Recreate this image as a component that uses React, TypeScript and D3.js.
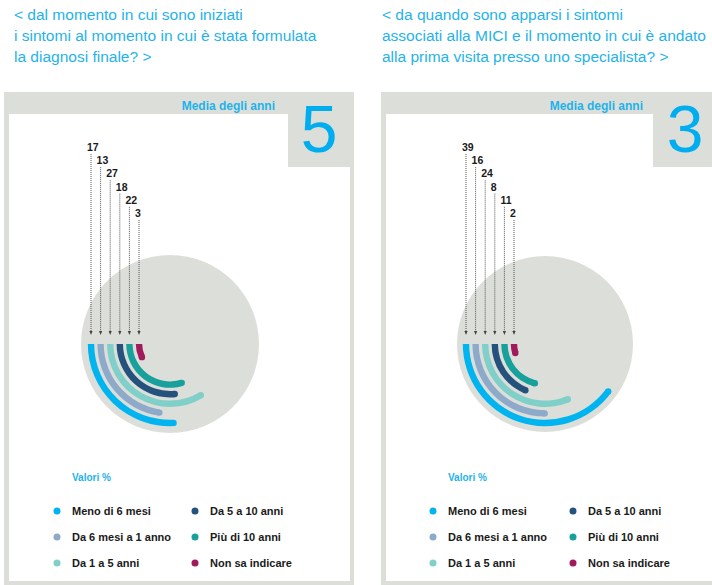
import React from "react";
import * as d3 from "d3";

// ---- data ----
const categories = [
  "Meno di 6 mesi",
  "Da 6 mesi a 1 anno",
  "Da 1 a 5 anni",
  "Da 5 a 10 anni",
  "Più di 10 anni",
  "Non sa indicare",
];
const diagnosiValues = [17, 13, 27, 18, 22, 3];
const visitaValues = [39, 16, 24, 8, 11, 2];
const mediaAnni = [5, 3];
const titles = [
  ["< dal momento in cui sono iniziati", "i sintomi al momento in cui è stata formulata", "la diagnosi finale? >"],
  ["< da quando sono apparsi i sintomi", "associati alla MICI e il momento in cui è andato", "alla prima visita presso uno specialista? >"],
];

// ---- styles ----
const colors = ["#00b4ef", "#8eaacb", "#80cfc8", "#24527c", "#17a09c", "#a01a5c"];
const GRAY = "#dcdfd9";
const CYAN = "#1fb3ea";
const FONT = "'Liberation Sans', Arial, Helvetica, sans-serif";

// angle (degrees) swept by each arc for a given percentage
const angleScale = d3.scaleLinear().domain([0, 8, 27, 40]).range([0, 67, 121, 145]);

const panels = [
  { values: diagnosiValues, media: mediaAnni[0], title: titles[0], titleX: 14, frameX: 4, frameR: 354, boxX: 288, headerEnd: 275, digitX: 319, cx: 170, cy: 344, r: 89, legX: 57, legX2: 195, valX: 72 },
  { values: visitaValues, media: mediaAnni[1], title: titles[1], titleX: 382, frameX: 381, frameR: 722, boxX: 653, headerEnd: 643, digitX: 685, cx: 545, cy: 344, r: 88, legX: 433, legX2: 573, valX: 448 },
];

const arcGen = d3.arc<any>();

function Panel({ p }: { p: (typeof panels)[number] }) {
  const radii = d3.range(categories.length).map((i) => 79 - 9.6 * i);
  const start = (3 * Math.PI) / 2;
  return (
    <g>
      {p.title.map((t, i) => (
        <text key={i} x={p.titleX} y={20 + i * 20.8} fontSize={15.5} fill={CYAN} fontFamily={FONT}>
          {t}
        </text>
      ))}
      {/* frame */}
      <rect x={p.frameX} y={92} width={p.frameR - p.frameX} height={500} fill={GRAY} />
      <rect x={p.frameX + 5} y={114} width={p.frameR - p.frameX - 9} height={467} fill="#fff" />
      <rect x={p.boxX} y={92} width={p.frameR - p.boxX} height={75} fill={GRAY} />
      <text x={p.headerEnd} y={110} textAnchor="end" fontSize={12} fontWeight="bold" fill={CYAN} fontFamily={FONT}>
        Media degli anni
      </text>
      <text x={p.digitX} y={152} textAnchor="middle" fontSize={66} fill="#00aeef" fontFamily={FONT}>
        {p.media}
      </text>
      {/* background circle */}
      <circle cx={p.cx} cy={p.cy} r={p.r} fill={GRAY} />
      {/* arcs */}
      {p.values.map((v, i) => {
        const r = radii[i];
        const end = start - (angleScale(v) * Math.PI) / 180;
        const d = arcGen({ innerRadius: r - 3.2, outerRadius: r + 3.2, startAngle: start, endAngle: end }) as string;
        const ex = p.cx + r * Math.sin(end);
        const ey = p.cy - r * Math.cos(end);
        return (
          <g key={i}>
            <path d={d} transform={`translate(${p.cx},${p.cy})`} fill={colors[i]} />
            <circle cx={ex} cy={ey} r={3.2} fill={colors[i]} />
          </g>
        );
      })}
      {/* leaders and labels */}
      {p.values.map((v, i) => {
        const x = p.cx - radii[i];
        const top = 154 + i * 13.2;
        return (
          <g key={i}>
            <line x1={x} x2={x} y1={top} y2={332} stroke="#444" strokeWidth={0.9} strokeDasharray="1 1" />
            <path d={`M${x - 1.6},${331} L${x + 1.6},${331} L${x},${335} Z`} fill="#444" />
            <text x={x - 4} y={top - 3} fontSize={10.5} fontWeight="bold" fill="#1a1a1a" fontFamily={FONT}>
              {v}
            </text>
          </g>
        );
      })}
      {/* legend */}
      <text x={p.valX} y={481} fontSize={10} fontWeight="bold" fill={CYAN} fontFamily={FONT}>
        Valori %
      </text>
      {categories.map((c, i) => {
        const col = Math.floor(i / 3);
        const row = i % 3;
        const dx = col === 0 ? p.legX : p.legX2;
        const y = 511 + row * 26;
        return (
          <g key={c}>
            <circle cx={dx} cy={y} r={3.5} fill={colors[i]} />
            <text x={dx + 15} y={y + 4} fontSize={11} fontWeight="bold" fill="#1a1a1a" fontFamily={FONT}>
              {c}
            </text>
          </g>
        );
      })}
    </g>
  );
}

export default function App() {
  return (
    <div style={{ position: "absolute", left: 0, top: 0 }}>
      <svg width={712} height={585} style={{ display: "block", background: "#fff" }}>
        {panels.map((p, i) => (
          <Panel key={i} p={p} />
        ))}
      </svg>
    </div>
  );
}
